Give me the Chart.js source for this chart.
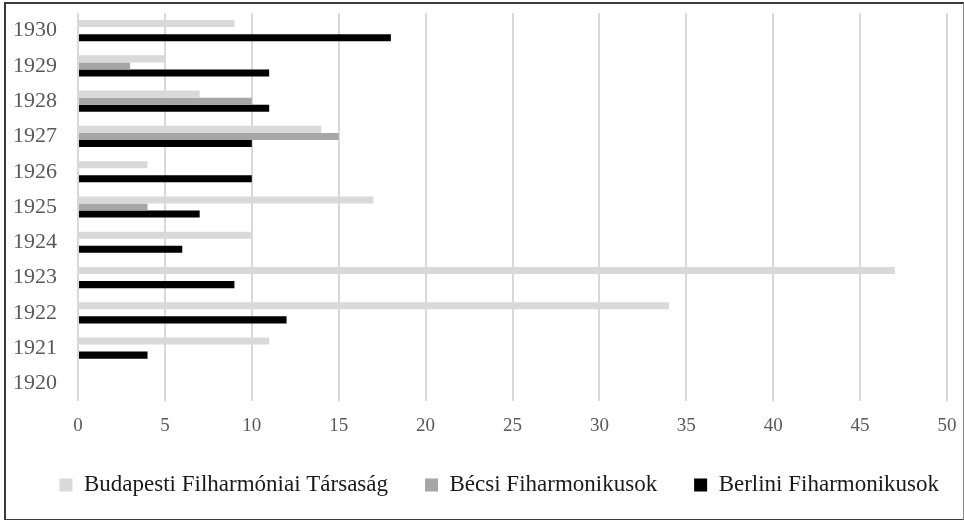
<!DOCTYPE html>
<html>
<head>
<meta charset="utf-8">
<script src="https://cdn.jsdelivr.net/npm/chart.js@4.4.0/dist/chart.umd.min.js"></script>
<style>
  html, body { margin: 0; padding: 0; background: #fff; }
  #wrap { width: 964px; height: 520px; position: relative; }
  #frame { position: absolute; left: 4px; top: 2px; width: 957px; height: 515px;
           border: 2px solid #3a3a3a; border-right: 1px solid #8a8a8a; pointer-events: none; }
  canvas { display: block; }
</style>
</head>
<body>
<div id="wrap">
  <canvas id="chart" width="964" height="520"></canvas>
  <div id="frame"></div>
</div>
<script>
var years = ['1930', '1929', '1928', '1927', '1926', '1925', '1924', '1923', '1922', '1921', '1920'];
var budapesti = [9, 5, 7, 14, 4, 17, 10, 47, 34, 11, 0];
var becsi = [0, 3, 10, 15, 0, 4, 0, 0, 0, 0, 0];
var berlini = [18, 11, 11, 10, 10, 7, 6, 9, 12, 4, 0];
var seriesNames = ['Budapesti Filharmóniai Társaság', 'Bécsi Fiharmonikusok', 'Berlini Fiharmonikusok'];

var serif = '"Liberation Serif", "DejaVu Serif", serif';

new Chart(document.getElementById('chart'), {
    type: 'bar',
    data: {
        labels: years,
        datasets: [
            { label: seriesNames[0], data: budapesti, backgroundColor: '#d9d9d9' },
            { label: seriesNames[1], data: becsi, backgroundColor: '#a6a6a6' },
            { label: seriesNames[2], data: berlini, backgroundColor: '#000000' }
        ]
    },
    options: {
        indexAxis: 'y',
        responsive: false,
        animation: false,
        categoryPercentage: 0.6,
        barPercentage: 1.0,
        // right padding is negative so the legend row is centred like the original
        layout: { padding: { top: 13, right: -34.5, left: 0, bottom: 13.5 } },
        plugins: {
            tooltip: { enabled: false },
            legend: {
                position: 'bottom',
                labels: {
                    boxWidth: 13,
                    boxHeight: 13,
                    padding: 37,
                    color: '#1a1a1a',
                    font: { family: serif, size: 23 }
                }
            }
        },
        scales: {
            x: {
                min: 0,
                max: 50,
                ticks: { stepSize: 5, color: '#595959', padding: 14, font: { family: serif, size: 19 } },
                grid: { color: '#d9d9d9', lineWidth: 2, drawTicks: false },
                border: { display: false },
                afterFit: function(scale) {
                    scale.height = 35.5;
                    scale.paddingLeft = 0;
                    scale.paddingRight = 17;
                }
            },
            y: {
                ticks: { color: '#595959', padding: 21, font: { family: serif, size: 22 } },
                grid: { display: false, drawTicks: false },
                border: { display: false },
                afterFit: function(scale) {
                    scale.width = 78;
                    scale.paddingTop = 0;
                    scale.paddingBottom = 0;
                }
            }
        }
    }
});
</script>
</body>
</html>
